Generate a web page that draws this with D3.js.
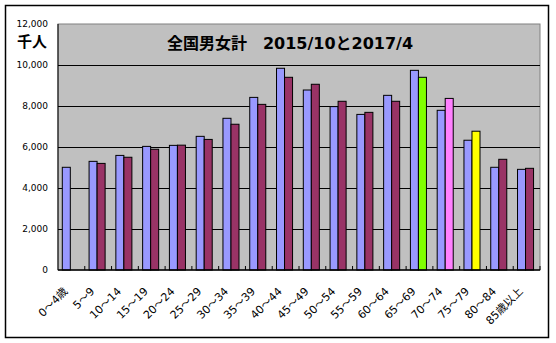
<!DOCTYPE html>
<html>
<head>
<meta charset="utf-8">
<script src="https://d3js.org/d3.v7.min.js"></script>
<style>
  body { margin: 0; background: #fff; }
  svg text { font-family: "DejaVu Sans", "Noto Sans CJK JP", sans-serif; }
</style>
</head>
<body>
<div id="chart"></div>
<script>
// age groups (x categories)
var categories = ["0～4歳", "5～9", "10～14", "15～19", "20～24", "25～29", "30～34", "35～39",
  "40～44", "45～49", "50～54", "55～59", "60～64", "65～69", "70～74", "75～79", "80～84", "85歳以上"];
// 2015/10 (thousand people)
var values2015 = [5010, 5300, 5590, 6030, 6080, 6520, 7400, 8420, 9840, 8780, 7970, 7590, 8520, 9740, 7790, 6330, 5010, 4910];
// 2017/4 (thousand people), no bar for 0-4
var values2017 = [null, 5200, 5500, 5890, 6090, 6370, 7110, 8080, 9400, 9060, 8230, 7690, 8230, 9400, 8370, 6770, 5400, 4960];
var yTicks = [0, 2000, 4000, 6000, 8000, 10000, 12000];

var W = 556, H = 343;
var plot = {left: 58, top: 24, right: 540, bottom: 270};

// highlighted bars of the second series
var highlight = {"65～69": "#80FF00", "70～74": "#FF80FF", "75～79": "#FFFF00"};

var svg = d3.select("#chart").append("svg")
  .attr("width", W).attr("height", H);

svg.append("rect")
  .attr("x", 5.5).attr("y", 5.5)
  .attr("width", 543).attr("height", 332)
  .attr("fill", "#fff").attr("stroke", "#000").attr("stroke-width", 1.5);

var x = d3.scaleBand().domain(categories).range([plot.left, plot.right]).padding(0);
var x1 = d3.scaleBand().domain(["a", "b"]).range([0, x.bandwidth()])
  .paddingInner(0).paddingOuter(0.67).align(0.4);
var y = d3.scaleLinear().domain([0, 12000]).range([plot.bottom, plot.top]);

// plot background
svg.append("rect")
  .attr("x", plot.left).attr("y", plot.top)
  .attr("width", plot.right - plot.left).attr("height", plot.bottom - plot.top)
  .attr("fill", "#C0C0C0").attr("stroke", "#808080").attr("stroke-width", 1);

// gridlines
svg.append("g")
  .attr("transform", "translate(" + plot.left + ",0)")
  .call(d3.axisLeft(y).tickValues(yTicks.slice(1, -1)).tickSize(-(plot.right - plot.left)).tickFormat(""))
  .call(function(g) { g.select(".domain").remove(); })
  .selectAll("line").attr("stroke", "#000");

// y labels
svg.append("g")
  .selectAll("text")
  .data(yTicks)
  .enter().append("text")
    .attr("x", 48)
    .attr("y", function(d) { return y(d); })
    .attr("dy", "0.35em")
    .attr("text-anchor", "end")
    .attr("font-size", "9px")
    .text(function(d) { return d3.format(",")(d); });

svg.append("text")
  .attr("x", 17).attr("y", 47)
  .attr("font-size", "15px").attr("font-weight", "bold")
  .style("font-family", "'Noto Sans CJK JP', sans-serif")
  .text("千人");

// bars
var groups = svg.append("g")
  .selectAll("g")
  .data(categories)
  .enter().append("g")
    .attr("transform", function(d) { return "translate(" + x(d) + ",0)"; });

groups.append("rect")
  .attr("x", x1("a"))
  .attr("y", function(d, i) { return y(values2015[i]); })
  .attr("width", x1.bandwidth())
  .attr("height", function(d, i) { return y(0) - y(values2015[i]); })
  .attr("fill", "#9999FF").attr("stroke", "#000").attr("stroke-width", 1);

groups.filter(function(d, i) { return values2017[i] != null; })
  .append("rect")
  .attr("x", x1("b"))
  .attr("y", function(d) { return y(values2017[categories.indexOf(d)]); })
  .attr("width", x1.bandwidth())
  .attr("height", function(d) { return y(0) - y(values2017[categories.indexOf(d)]); })
  .attr("fill", function(d) { return highlight[d] || "#993366"; })
  .attr("stroke", "#000").attr("stroke-width", 1);

// left axis line
svg.append("line")
  .attr("x1", plot.left).attr("x2", plot.left)
  .attr("y1", plot.top).attr("y2", plot.bottom)
  .attr("stroke", "#000");

// x axis with inward ticks at group boundaries
var xg = svg.append("g");
xg.append("line")
  .attr("x1", plot.left).attr("x2", plot.right)
  .attr("y1", plot.bottom).attr("y2", plot.bottom)
  .attr("stroke", "#000").attr("stroke-width", 1.5);
xg.selectAll(".tk")
  .data(categories.slice(1).concat(["end"]))
  .enter().append("line")
    .attr("x1", function(d) { return d === "end" ? plot.right : x(d); })
    .attr("x2", function(d) { return d === "end" ? plot.right : x(d); })
    .attr("y1", plot.bottom).attr("y2", plot.bottom - 4)
    .attr("stroke", "#000");

xg.selectAll(".lbl")
  .data(categories)
  .enter().append("text")
    .attr("transform", function(d) {
      return "translate(" + (x(d) + x.bandwidth() / 2 - 3) + "," + (plot.bottom + 22) + ") rotate(-45)";
    })
    .attr("text-anchor", "end")
    .attr("font-size", "11px")
    .text(function(d) { return d; });

// title
svg.append("text")
  .attr("x", 290).attr("y", 49)
  .attr("text-anchor", "middle")
  .attr("font-size", "16px").attr("font-weight", "bold")
  .text("全国男女計　2015/10と2017/4");
</script>
</body>
</html>
